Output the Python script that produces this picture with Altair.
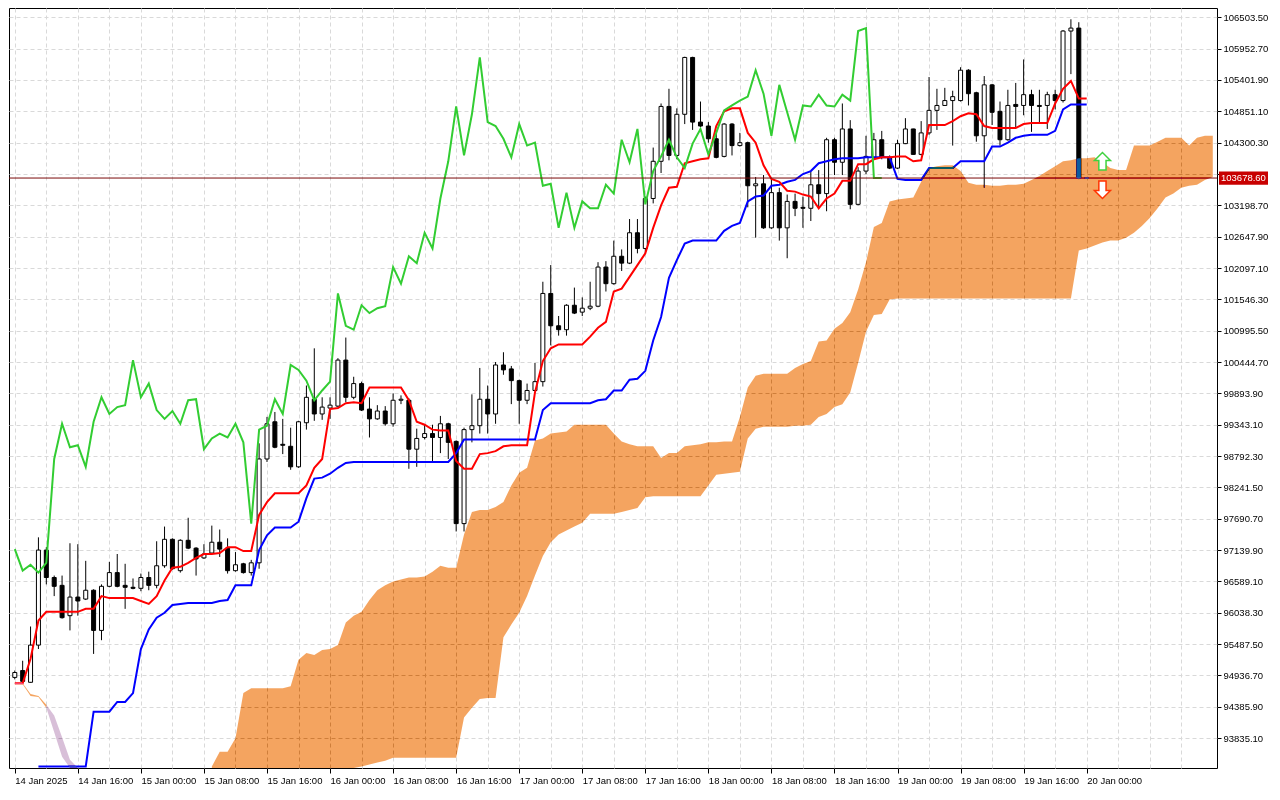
import json
import numpy as np
import pandas as pd
import altair as alt

# ---------------- data (BTC H1, Ichimoku) ----------------
time_labels = ["14 Jan 2025", "14 Jan 16:00", "15 Jan 00:00", "15 Jan 08:00", "15 Jan 16:00",
               "16 Jan 00:00", "16 Jan 08:00", "16 Jan 16:00", "17 Jan 00:00", "17 Jan 08:00",
               "17 Jan 16:00", "18 Jan 00:00", "18 Jan 08:00", "18 Jan 16:00", "19 Jan 00:00",
               "19 Jan 08:00", "19 Jan 16:00", "20 Jan 00:00"]

price_ticks = [93835.1, 94385.9, 94936.7, 95487.5, 96038.3, 96589.1, 97139.9, 97690.7,
               98241.5, 98792.3, 99343.1, 99893.9, 100444.7, 100995.5, 101546.3, 102097.1,
               102647.9, 103198.7, 103749.5, 104300.3, 104851.1, 105401.9, 105952.7, 106503.5]

open_ = [94902, 95023, 94816, 95470, 97140, 96658, 96520, 95987, 96314, 96279,
         96434, 95728, 96503, 96744, 96520, 96486, 96468, 96658, 96520, 96864,
         97329, 96778, 97312, 97174, 97002, 97088, 97278, 97174, 96778, 96899,
         96744, 96916, 98741, 99395, 98999, 98964, 98603, 99378, 99791, 99532,
         99636, 99670, 100479, 99825, 100066, 99618, 99446, 99584, 99360, 99773,
         99773, 98913, 99119, 99188, 99119, 99360, 99050, 97605, 99257, 99326,
         99791, 99532, 100393, 100324, 100118, 99773, 99945, 100100, 101650, 101082,
         101013, 101443, 101322, 101391, 101426, 102114, 101822, 102304, 102183, 102717,
         102441, 103319, 103973, 104937, 104076, 104799, 105798, 104662, 104593, 104369,
         104059, 104627, 104249, 104300, 103543, 103577, 102803, 103422, 102803, 103268,
         103164, 103147, 103560, 103405, 104352, 103956, 104541, 103216, 103801, 104042,
         104352, 104042, 103853, 104283, 104541, 104094, 104472, 104868, 104954, 105040,
         105040, 105574, 105178, 104421, 105316, 104851, 104352, 104972, 104954, 105144,
         104954, 104954, 105144, 105040, 106262, 106314, 103678.6]

high = [95023, 95195, 95797, 97364, 97191, 96692, 96692, 97260, 97243, 96951,
        96451, 96537, 96933, 97071, 96899, 96641, 96727, 96761, 97295, 97553,
        97346, 97329, 97708, 97191, 97243, 97570, 97501, 97346, 97105, 96916,
        96968, 99016, 99481, 99567, 99446, 99291, 99412, 100032, 100686, 99825,
        99825, 100513, 100875, 100186, 100100, 99825, 99687, 99670, 99894, 99859,
        99808, 99274, 99343, 99343, 99498, 99378, 99068, 99291, 99877, 100341,
        100032, 100445, 100617, 100376, 100135, 100066, 100428, 101856, 102149, 101254,
        101460, 101753, 101581, 101856, 102200, 102218, 102579, 102424, 102958, 102958,
        103353, 104214, 104989, 105247, 104903, 105810, 105810, 105023, 104662, 104455,
        104644, 104644, 104472, 104318, 103697, 103731, 103663, 103508, 103388, 103405,
        103353, 103784, 103818, 104386, 104386, 104989, 104696, 103870, 104421, 104472,
        104507, 104076, 104352, 104731, 104545, 104679, 105454, 105247, 105264, 105213,
        105626, 105591, 105195, 105471, 105333, 105023, 105230, 105350, 105763, 105230,
        105230, 105195, 105230, 106280, 106469, 106417, 103678.6]

low = [94868, 94799, 94810, 95401, 96537, 96331, 95935, 95728, 95987, 96262,
       95315, 95556, 96486, 96486, 96107, 96451, 96417, 96434, 96468, 96829,
       96795, 96744, 97157, 96692, 96985, 97071, 97019, 96727, 96761, 96727,
       96692, 96812, 98689, 98930, 98827, 98551, 98586, 99257, 99412, 99429,
       99446, 99653, 99739, 99791, 99584, 99119, 99429, 99326, 99309, 99705,
       98569, 98603, 99085, 98706, 98844, 98741, 97467, 97467, 99033, 99188,
       99188, 99360, 100221, 99705, 99360, 99705, 99928, 100014, 100737, 100909,
       100909, 101288, 101254, 101357, 101408, 101684, 101805, 102045, 102166, 102355,
       102355, 103233, 103767, 103990, 104008, 104627, 104524, 104576, 104300, 104025,
       104042, 104076, 104232, 103164, 102631, 102786, 102786, 102579, 102269, 103009,
       102803, 102923, 103147, 103095, 103731, 103731, 103130, 103199, 103749, 104025,
       104008, 103836, 103836, 104275, 104090, 104076, 104438, 104524, 104950, 104249,
       105023, 104954, 104317, 103508, 104610, 104249, 104335, 104558, 104782, 104490,
       104662, 104541, 104885, 105006, 105505, 103660, 103678.6]

close = [94988, 94833, 95470, 97140, 96658, 96503, 95952, 96314, 96245, 96434,
         95728, 96503, 96744, 96503, 96486, 96468, 96658, 96520, 96864, 97329,
         96812, 97312, 97174, 96985, 97071, 97278, 97157, 96778, 96882, 96744,
         96916, 98741, 99360, 98947, 98982, 98603, 99395, 99825, 99532, 99653,
         99687, 100479, 99825, 100066, 99601, 99446, 99584, 99360, 99773, 99791,
         98913, 99102, 99188, 99119, 99360, 99033, 97605, 99257, 99326, 99791,
         99532, 100393, 100307, 100118, 99773, 99945, 100100, 101650, 101082, 101013,
         101443, 101305, 101391, 101426, 102114, 101822, 102304, 102183, 102717, 102441,
         103319, 103973, 104937, 104076, 104799, 105798, 104662, 104593, 104369, 104042,
         104627, 104249, 104300, 103543, 103577, 102803, 103422, 102803, 103268, 103147,
         103147, 103560, 103405, 104352, 103956, 104541, 103216, 103801, 104059, 104352,
         104042, 103853, 104283, 104541, 104094, 104472, 104868, 104954, 105040, 105109,
         105574, 105161, 104421, 105316, 104834, 104352, 104954, 104937, 105144, 104954,
         104937, 105144, 105040, 106262, 106314, 103678.6, 103678.6]

tenkan = [94799, 94799, 95229, 95901, 96055, 96055, 96055, 96055, 96055, 96107,
          96107, 96331, 96296, 96296, 96296, 96296, 96245, 96193, 96331, 96606,
          96829, 96846, 96916, 97002, 97071, 97071, 97088, 97191, 97191, 97123,
          97123, 97759, 97983, 98138, 98138, 98138, 98138, 98276, 98586, 98741,
          99618, 99636, 99722, 99739, 99722, 99997, 99997, 99997, 99997, 99997,
          99773, 99395, 99343, 99257, 99240, 99240, 98706, 98569, 98569, 98827,
          98844, 98878, 98964, 98982, 98982, 98982, 99911, 100462, 100686, 100754,
          100754, 100754, 100754, 100892, 101047, 101150, 101684, 101735, 101942, 102149,
          102355, 102803, 103199, 103508, 103525, 103939, 103973, 104008, 104025, 104593,
          104851, 104903, 104903, 104472, 104300, 103904, 103663, 103612, 103456, 103440,
          103388, 103353, 103147, 103319, 103405, 103629, 103629, 103922, 103922, 104008,
          104042, 104042, 104059, 104059, 103973, 103990, 104610, 104610, 104610, 104679,
          104765, 104817, 104799, 104593, 104558, 104558, 104558, 104558, 104627, 104644,
          104644, 104644, 104989, 105247, 105385, 105075, 105075]

kijun = [None, None, None, 93336, 93336, 93336, 93336, 93336, 93336, 93336,
         94300, 94300, 94300, 94472, 94472, 94627, 95401, 95746, 95952, 96038,
         96176, 96193, 96210, 96210, 96210, 96210, 96245, 96262, 96520, 96520,
         96520, 97140, 97398, 97536, 97536, 97536, 97639, 98052, 98396, 98413,
         98482, 98586, 98672, 98689, 98689, 98689, 98689, 98689, 98689, 98689,
         98689, 98689, 98689, 98689, 98689, 98689, 98844, 99085, 99085, 99085,
         99085, 99085, 99085, 99085, 99085, 99085, 99085, 99601, 99722, 99722,
         99722, 99722, 99722, 99722, 99773, 99791, 99945, 99945, 100135, 100152,
         100290, 100823, 101236, 101925, 102235, 102527, 102579, 102579, 102579, 102579,
         102751, 102837, 102889, 103268, 103353, 103370, 103543, 103560, 103612, 103646,
         103749, 103801, 103939, 103973, 104008, 104025, 104025, 104025, 104042, 104042,
         104042, 104042, 103663, 103646, 103646, 103646, 103853, 103853, 103853, 103853,
         103973, 103973, 103973, 103973, 104232, 104232, 104300, 104386, 104421, 104438,
         104438, 104438, 104507, 104885, 104971, 104971, 104971]

# Kumo (cloud) edges from bar 25 to the right border; 93000 = below the visible range
cloud_start = 25
cloud_top = [93336, 93594, 93594, 93835, 94627,
             94713, 94713, 94713, 94713, 94713, 94747, 95212, 95332, 95298, 95384,
             95401, 95470, 95866, 95987, 96055, 96262, 96434, 96520, 96589, 96623,
             96658, 96658, 96675, 96761, 96864, 96829, 96829, 97415, 97811, 97846,
             97846, 97897, 97983, 98276, 98500, 98586, 99068, 99102, 99188, 99205,
             99222, 99343, 99343, 99343, 99343, 99343, 99188, 99050, 98999, 98964,
             98964, 98964, 98758, 98844, 98844, 98964, 98982, 98999, 99033, 99033,
             99050, 99050, 99481, 99997, 100204, 100238, 100238, 100238, 100238, 100341,
             100410, 100462, 100806, 100823, 101030, 101133, 101322, 101718, 102200, 102820,
             102889, 103268, 103302, 103319, 103336, 103612, 103853, 103887, 103904, 103904,
             103801, 103595, 103560, 103560, 103543, 103543, 103560, 103560, 103577, 103646,
             103715, 103801, 103887, 103973, 103990, 104025, 104025, 104042, 103956, 103853,
             103818, 103818, 104249, 104249, 104249, 104317, 104386, 104386, 104386, 104249,
             104386, 104421, 104421]
cloud_bottom = [93000, 93000, 93000, 93000, 93000,
                93000, 93000, 93000, 93000, 93000, 93000, 93000, 93000, 93000, 93000,
                93000, 93000, 93000, 93000, 93336, 93370, 93405, 93439, 93491, 93491,
                93491, 93491, 93491, 93491, 93491, 93491, 93491, 94197, 94369, 94523,
                94540, 94540, 95607, 95832, 96038, 96331, 96692, 97037, 97278, 97415,
                97484, 97553, 97622, 97777, 97777, 97777, 97777, 97811, 97846, 97880,
                98069, 98086, 98086, 98086, 98086, 98086, 98086, 98086, 98276, 98465,
                98482, 98500, 98517, 99102, 99274, 99309, 99309, 99309, 99309, 99326,
                99326, 99343, 99481, 99532, 99653, 99705, 99911, 100428, 100978, 101271,
                101288, 101546, 101563, 101563, 101563, 101563, 101563, 101563, 101563, 101563,
                101563, 101563, 101563, 101563, 101563, 101563, 101563, 101563, 101563, 101563,
                101563, 101563, 101563, 101563, 101563, 102407, 102441, 102493, 102545, 102579,
                102579, 102631, 102717, 102837, 102975, 103147, 103336, 103405, 103508, 103543,
                103560, 103646, 103697]

# left end of the cloud: thin bullish part, then bearish (thistle) part
left_up_bar = [0, 1, 2, 3, 4]
left_up_top = [94799, 94799, 94610, 94575, 94420]
left_up_bottom = [94780, 94782, 94575, 94558, 94369]
left_dn_bar = [4, 5, 6, 7, 8]
left_dn_top = [94420, 94231, 93852, 93456, 93100]
left_dn_bottom = [94369, 93938, 93508, 93100, 92950]

# signal arrows to the right of the last bar
signal_bar = [138, 138]
signal_price = [103973, 103474]
signal_dir = ["up", "down"]

# ---------------- layout / style ----------------
W, H = 1208, 760
FONT = "Liberation Sans"
GRID = "#D9D9D9"

n = len(close)
bars = list(range(n))
candles = pd.DataFrame({"bar": bars, "open": open_, "high": high, "low": low, "close": close})
candles["body_lo"] = candles[["open", "close"]].min(axis=1)
candles["body_hi"] = candles[["open", "close"]].max(axis=1)
candles["dir"] = np.where(candles["close"] >= candles["open"], "up", "down")

lines = pd.DataFrame({"bar": bars, "tenkan": tenkan, "kijun": kijun})
chikou = pd.DataFrame({"bar": bars[: n - 26], "chikou": close[26:]})

m = min(len(cloud_top), len(cloud_bottom))
cloud = pd.DataFrame({"bar": list(range(cloud_start, cloud_start + m)),
                      "top": cloud_top[:m], "bottom": cloud_bottom[:m]})
cl_up = pd.DataFrame({"bar": left_up_bar, "top": left_up_top, "bottom": left_up_bottom})
cl_dn = pd.DataFrame({"bar": left_dn_bar, "top": left_dn_top, "bottom": left_dn_bottom})

last = pd.DataFrame({"price": [close[-1]], "label": [f"{close[-1]:.2f}"]})
signals = pd.DataFrame({"bar": signal_bar, "price": signal_price, "dir": signal_dir})

x_scale = alt.Scale(domain=[-0.1, 151.9], nice=False, zero=False, clamp=True)
y_scale = alt.Scale(domain=[93310, 106667], nice=False, zero=False, clamp=True)

label_expr = json.dumps(time_labels) + "[round(datum.value / 8)]"
x_axis_main = alt.Axis(values=[8 * i for i in range(len(time_labels))], labelExpr=label_expr,
                       orient="bottom", grid=False, domain=False, ticks=True, tickSize=5,
                       tickColor="black", labelAlign="left", labelBaseline="top", labelPadding=2,
                       labelFont=FONT, labelFontSize=9.5, labelColor="black", labelFlush=False,
                       labelOverlap=False, labelBound=False, title=None)
x_axis_grid = alt.Axis(values=list(range(0, 152, 4)), orient="top", grid=True, gridColor=GRID,
                       gridDash=[4, 3], gridWidth=1, labels=False, ticks=False, domain=False,
                       title=None)
y_axis = alt.Axis(values=price_ticks, orient="right", format=".2f", grid=True, gridColor=GRID,
                  gridDash=[4, 3], gridWidth=1, domain=False, tickSize=4, tickColor="black",
                  labelPadding=2, labelFont=FONT, labelFontSize=9.5, labelColor="black",
                  labelOverlap=False, labelFlush=False, labelBound=False, title=None)

def X(axis=None):
    return alt.X("bar:Q", scale=x_scale, axis=axis)

def Y(field, axis=None):
    return alt.Y(field, scale=y_scale, axis=axis)

wicks = alt.Chart(candles).mark_rule(color="black", strokeWidth=1, clip=True).encode(
    x=X(x_axis_main), y=Y("low:Q", y_axis), y2="high:Q")

bodies = alt.Chart(candles).mark_bar(size=4, stroke="black", strokeWidth=1, clip=True).encode(
    x=X(), y=Y("body_lo:Q"), y2="body_hi:Q",
    fill=alt.Fill("dir:N", scale=alt.Scale(domain=["up", "down"], range=["white", "black"]),
                  legend=None))

kijun_line = alt.Chart(lines).mark_line(color="#0000FF", strokeWidth=2).encode(
    x=X(x_axis_grid), y=Y("kijun:Q"))
tenkan_line = alt.Chart(lines).mark_line(color="#FF0000", strokeWidth=2).encode(
    x=X(), y=Y("tenkan:Q"))
chikou_line = alt.Chart(chikou).mark_line(color="#32CD32", strokeWidth=2).encode(
    x=X(), y=Y("chikou:Q"))

price_line = alt.Chart(last).mark_rule(color="#7A0A0A", strokeWidth=1).encode(y=Y("price:Q"))

# the cloud is painted like MetaTrader does it: inverted colour + difference blend
cloud_main = alt.Chart(cloud).mark_area(color="#0B5B9F", blend="difference").encode(
    x=X(), y=Y("top:Q"), y2="bottom:Q")
cloud_left_up = alt.Chart(cl_up).mark_area(color="#0B5B9F", blend="difference").encode(
    x=X(), y=Y("top:Q"), y2="bottom:Q")
cloud_left_dn = alt.Chart(cl_dn).mark_area(color="#274027", blend="difference").encode(
    x=X(), y=Y("top:Q"), y2="bottom:Q")

UP = "M0,-1.1L1,-0.1L0.45,-0.1L0.45,1.1L-0.45,1.1L-0.45,-0.1L-1,-0.1Z"
DOWN = "M0,1.1L1,0.1L0.45,0.1L0.45,-1.1L-0.45,-1.1L-0.45,0.1L-1,0.1Z"
arrows = alt.Chart(signals).mark_point(filled=True, fill="white", size=256, strokeWidth=1.5,
                                       opacity=1).encode(
    x=X(), y=Y("price:Q"),
    shape=alt.Shape("dir:N", scale=alt.Scale(domain=["up", "down"], range=[UP, DOWN]), legend=None),
    stroke=alt.Stroke("dir:N", scale=alt.Scale(domain=["up", "down"], range=["#3FD23F", "#FF3300"]),
                      legend=None))

BOX = "M-1,-0.27L1,-0.27L1,0.27L-1,0.27Z"
label_box = alt.Chart(last).mark_point(shape=BOX, size=2401, filled=True, fill="#C80000",
                                       strokeWidth=0, opacity=1).encode(
    x=alt.value(W + 26.5), y=Y("price:Q"))
label_text = alt.Chart(last).mark_text(align="left", baseline="middle", color="white", font=FONT,
                                       fontSize=9.5).encode(
    x=alt.value(W + 4), y=Y("price:Q"), text="label:N")

chart = alt.layer(
    wicks, bodies, kijun_line, tenkan_line, chikou_line, price_line,
    cloud_main, cloud_left_up, cloud_left_dn, arrows, label_box, label_text
).resolve_axis(x="independent", y="independent").properties(
    width=W, height=H, padding=0, background="white"
).configure_view(stroke="black", strokeWidth=1)

chart.save("out.html", embed_options={"renderer": "svg", "actions": False})
